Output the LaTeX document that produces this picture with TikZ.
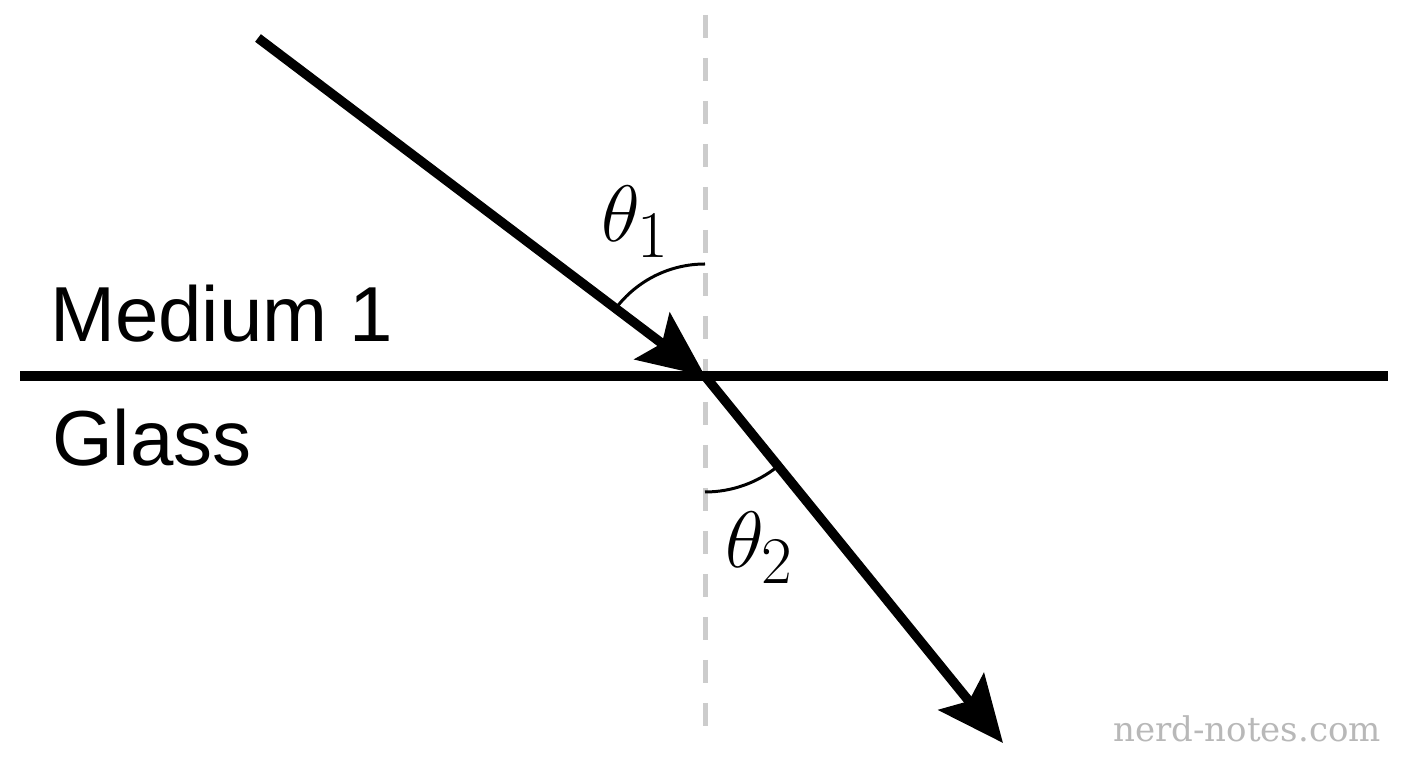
\documentclass[tikz,border=0pt]{standalone}
\usepackage{graphicx}
\usepackage{fontspec}
\setmainfont{Liberation Sans}
\newfontfamily\wmfont{DejaVu Serif}
\usetikzlibrary{arrows.meta}
\definecolor{dashgray}{HTML}{CCCCCC}
\definecolor{wmgray}{HTML}{B8B8B8}
\newcommand{\bigmath}[1]{\scalebox{3.215}{\fontsize{24.88}{30}\selectfont$#1$}}
\tikzset{
  ray/.style={line width=9.5pt, -{Stealth[length=66pt,width=58pt,inset=12pt]}},
  surface/.style={line width=9.5pt},
  normal/.style={line width=5pt, dashgray, dash pattern=on 23pt off 20pt},
  anglearc/.style={line width=3pt},
  lbl/.style={inner sep=0pt, anchor=base west, font=\fontsize{78}{94}\selectfont},
  mathlbl/.style={inner sep=0pt, anchor=base west},
  wm/.style={inner sep=0pt, anchor=base west, text=wmgray, font=\wmfont\fontsize{34}{40}\selectfont}
}
\begin{document}
\begin{tikzpicture}[x=1pt,y=1pt]
\useasboundingbox (0,0) rectangle (1408,768);
\coordinate (O) at (705,392);
\coordinate (A) at (258,730);
\coordinate (B) at (1003,25);
\coordinate (L) at (20,392);
\coordinate (R) at (1388,392);
\coordinate (NT) at (705,753);
\coordinate (NB) at (705,38);
\draw[normal] (NT) -- (NB);
\draw[surface] (L) -- (R);
\draw[ray] (A) -- (O);
\draw[ray] (O) -- (B);
\draw[anglearc] (O) ++(90:112) arc[start angle=90, end angle=142.9, radius=112];
\draw[anglearc] (O) ++(-90:116) arc[start angle=-90, end angle=-50.9, radius=116];
\node[lbl] (m1) at (50,426) {Medium 1};
\node[lbl] (gl) at (52,302) {Glass};
\node[mathlbl] (t1) at (601,526) {\bigmath{\theta_1}};
\node[mathlbl] (t2) at (725,200) {\bigmath{\theta_2}};
\node[wm] (wmk) at (1113,26) {nerd-notes.com};
\end{tikzpicture}
\end{document}
